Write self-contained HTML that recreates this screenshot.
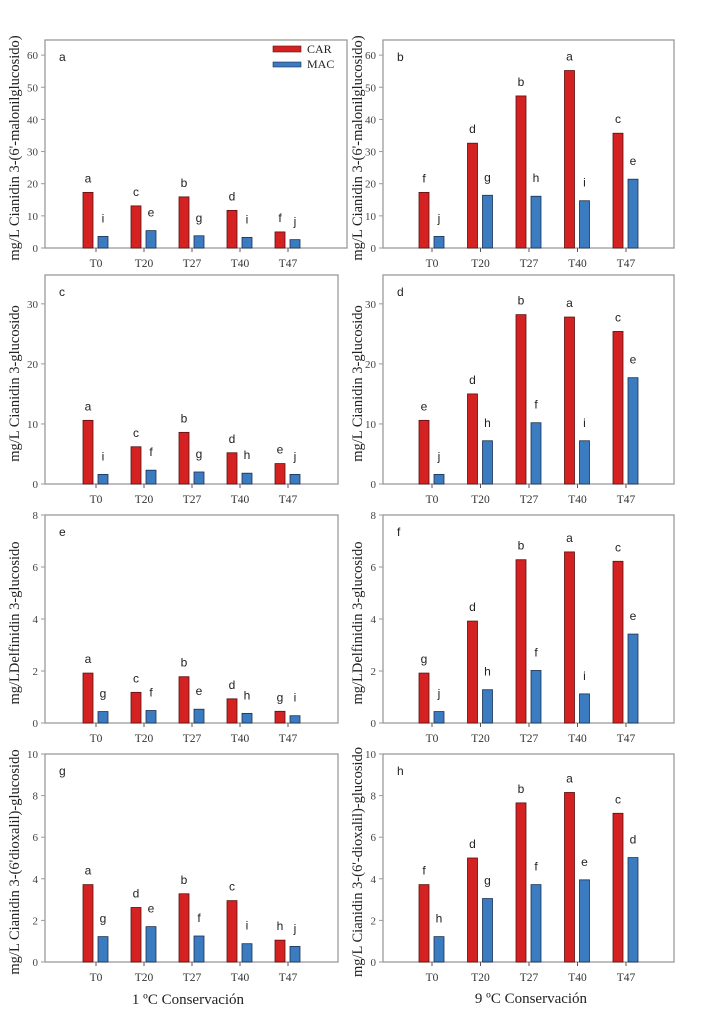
<!DOCTYPE html>
<html><head><meta charset="utf-8">
<style>
html,body{margin:0;padding:0;background:#fff;}
svg{display:block;}
</style></head>
<body>
<svg id="chart" width="721" height="1021" viewBox="0 0 721 1021" xmlns="http://www.w3.org/2000/svg"></svg>
<script>
const categories = ["T0","T20","T27","T40","T47"];
const panelIds = ["a","b","c","d","e","f","g","h"];
const carA = [17.3,13.1,15.9,11.7,5.0];
const macA = [3.6,5.4,3.8,3.3,2.6];
const carB = [17.3,32.6,47.3,55.2,35.7];
const macB = [3.6,16.4,16.1,14.7,21.4];
const carC = [10.6,6.2,8.6,5.2,3.4];
const macC = [1.6,2.3,2.0,1.8,1.6];
const carD = [10.6,15.0,28.2,27.8,25.4];
const macD = [1.6,7.2,10.2,7.2,17.7];
const carE = [1.92,1.18,1.78,0.93,0.45];
const macE = [0.44,0.48,0.53,0.37,0.28];
const carF = [1.92,3.92,6.28,6.58,6.22];
const macF = [0.44,1.28,2.02,1.12,3.42];
const carG = [3.72,2.62,3.28,2.95,1.05];
const macG = [1.22,1.70,1.25,0.88,0.75];
const carH = [3.72,5.0,7.65,8.15,7.15];
const macH = [1.22,3.05,3.72,3.95,5.02];
const carLetA = ["a","c","b","d","f"], macLetA = ["i","e","g","i","j"];
const carLetB = ["f","d","b","a","c"], macLetB = ["j","g","h","i","e"];
const carLetC = ["a","c","b","d","e"], macLetC = ["i","f","g","h","j"];
const carLetD = ["e","d","b","a","c"], macLetD = ["j","h","f","i","e"];
const carLetE = ["a","c","b","d","g"], macLetE = ["g","f","e","h","i"];
const carLetF = ["g","d","b","a","c"], macLetF = ["j","h","f","i","e"];
const carLetG = ["a","d","b","c","h"], macLetG = ["g","e","f","i","j"];
const carLetH = ["f","d","b","a","c"], macLetH = ["h","g","f","e","d"];
const ticksRow1 = [0,10,20,30,40,50,60];
const ticksRow2 = [0,10,20,30];
const ticksRow3 = [0,2,4,6,8];
const ticksRow4 = [0,2,4,6,8,10];
const yMaxRows = [64.7,34.8,8,10];
const yTitles = ["mg/L Cianidin 3-(6'-malonilglucosido)","mg/L Cianidin 3-glucosido","mg/LDelfinidin 3-glucosido","mg/L Cianidin 3-(6'dioxalil)-glucosido"];
const yTitlesRight = ["mg/L Cianidin 3-(6'-malonilglucosido)","mg/L Cianidin 3-glucosido","mg/LDelfinidin 3-glucosido","mg/L Cianidin 3-(6'-dioxalil)-glucosido"];

const NS="http://www.w3.org/2000/svg";
const svg=document.getElementById('chart');
function mk(tag,attrs,parent){const e=document.createElementNS(NS,tag);for(const k in attrs)e.setAttribute(k,attrs[k]);(parent||svg).appendChild(e);return e;}

const cars=[carA,carB,carC,carD,carE,carF,carG,carH];
const macs=[macA,macB,macC,macD,macE,macF,macG,macH];
const carL=[carLetA,carLetB,carLetC,carLetD,carLetE,carLetF,carLetG,carLetH];
const macL=[macLetA,macLetB,macLetC,macLetD,macLetE,macLetF,macLetG,macLetH];
const ticks=[ticksRow1,ticksRow2,ticksRow3,ticksRow4];
const rowTop=[40,275,515,754];
const rowBot=[248,484,723,962];

for(let p=0;p<8;p++){
  const row=Math.floor(p/2), col=p%2;
  const left = col===0?45:383;
  const right = col===0?(row===0?347:338):674;
  const firstCat = col===0?96:432;
  const step = col===0?48:48.5;
  const top=rowTop[row], bot=rowBot[row], ymax=yMaxRows[row];
  const y=v=>bot-(v/ymax)*(bot-top);
  const x=i=>firstCat+i*step;
  const g=mk('g',{});
  
  
  const fr=mk('rect',{x:left,y:top,width:right-left,height:bot-top,fill:'none',stroke:'#9a9a9a','stroke-width':1.3},g);
  
  
  ticks[row].forEach(t=>{
    mk('line',{x1:left-4,x2:left,y1:y(t),y2:y(t),stroke:'#9a9a9a'},g);
    const tl=mk('text',{x:left-7,y:y(t)+4,'text-anchor':'end','font-family':'Liberation Serif, serif','font-size':11,fill:'#444'},g);
    tl.textContent=t;
    
    
  });
  const yt=mk('text',{transform:`translate(${col===0?19:362},${(top+bot)/2+4}) rotate(-90)`,'text-anchor':'middle','font-family':'Liberation Serif, serif','font-size':14.5,fill:'#222'},g);
  yt.textContent=col===0?yTitles[row]:yTitlesRight[row];
  
  
  const pl=mk('text',{x:left+14,y:top+21,'font-family':'Liberation Sans, sans-serif','font-size':12,fill:'#222'},g);
  pl.textContent=panelIds[p];
  
  
  categories.forEach((c,i)=>{
    mk('line',{x1:x(i),x2:x(i),y1:bot,y2:bot+4,stroke:'#555'},g);
    const xl=mk('text',{x:x(i),y:bot+19,'text-anchor':'middle','font-family':'Liberation Serif, serif','font-size':11.5,fill:'#333'},g);
    xl.textContent=c;
    
    
    const cv=cars[p][i], mv=macs[p][i];
    const rb=mk('rect',{x:x(i)-13,y:y(cv),width:10,height:bot-y(cv),fill:'#d42121',stroke:'#5a1010','stroke-width':0.8},g);
    
    
    const bb=mk('rect',{x:x(i)+2,y:y(mv),width:10,height:bot-y(mv),fill:'#3b7bc0',stroke:'#1b3050','stroke-width':0.8},g);
    
    
    const lc=mk('text',{x:x(i)-8,y:y(cv)-10,'text-anchor':'middle','font-family':'Liberation Sans, sans-serif','font-size':12,fill:'#222'},g);
    lc.textContent=carL[p][i];
    
    
    const lm=mk('text',{x:x(i)+7,y:y(mv)-14,'text-anchor':'middle','font-family':'Liberation Sans, sans-serif','font-size':12,fill:'#222'},g);
    lm.textContent=macL[p][i];
    
    
  });
}
// legend
const lg=mk('g',{});


const s1=mk('rect',{x:273,y:46,width:28,height:6,fill:'#d42121',stroke:'#5a1010','stroke-width':0.6},lg);


const t1=mk('text',{x:307,y:53,'font-family':'Liberation Serif, serif','font-size':12,fill:'#222'},lg);
t1.textContent='CAR';


const s2=mk('rect',{x:273,y:62,width:28,height:5,fill:'#3b7bc0',stroke:'#1b3050','stroke-width':0.6},lg);


const t2=mk('text',{x:307,y:68,'font-family':'Liberation Serif, serif','font-size':12,fill:'#222'},lg);
t2.textContent='MAC';


const b1=mk('text',{x:188,y:1004,'text-anchor':'middle','font-family':'Liberation Serif, serif','font-size':15,fill:'#222'});
b1.textContent='1 ºC Conservación';


const b2=mk('text',{x:531,y:1003,'text-anchor':'middle','font-family':'Liberation Serif, serif','font-size':15,fill:'#222'});
b2.textContent='9 ºC Conservación';


</script>
</body></html>
